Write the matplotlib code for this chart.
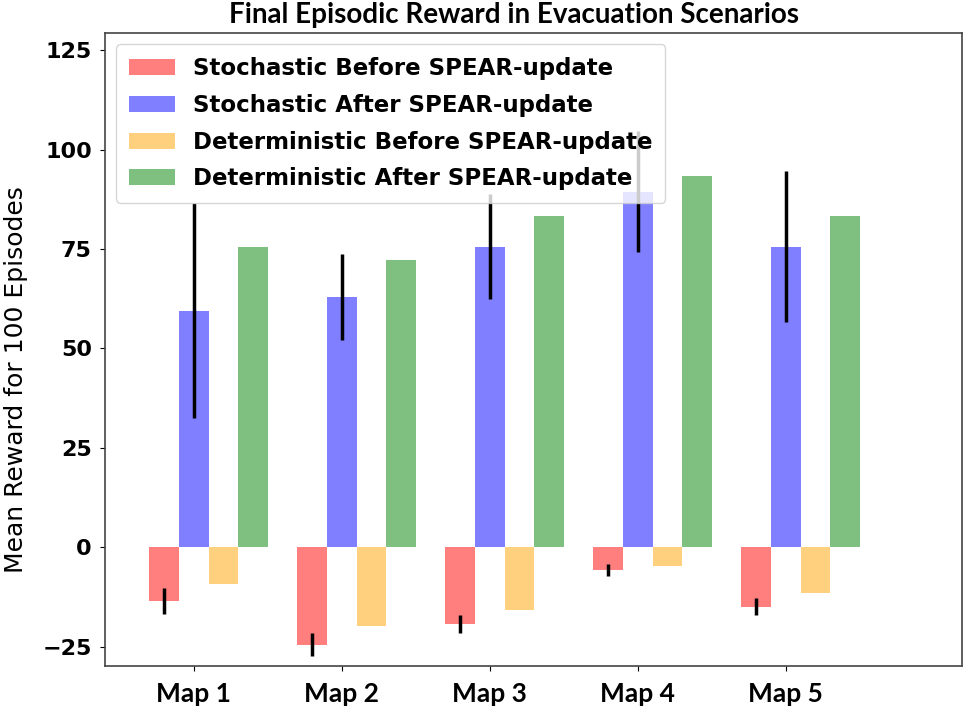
import matplotlib.pyplot as plt
import numpy as np

# data
maps = ['Map 1', 'Map 2', 'Map 3', 'Map 4', 'Map 5']
stoch_before = [-13.5, -24.5, -19.3, -5.8, -15.0]
stoch_before_err = [3.2, 2.8, 2.35, 1.45, 2.15]
stoch_after = [59.5, 63.0, 75.6, 89.4, 75.6]
stoch_after_err = [27.0, 10.8, 13.2, 15.3, 18.9]
det_before = [-9.4, -19.8, -15.8, -4.8, -11.5]
det_after = [75.4, 72.3, 83.3, 93.4, 83.3]

x = np.arange(len(maps))
w = 0.2

fig = plt.figure(figsize=(9.69, 7.11), dpi=100)
ax = fig.add_axes([105 / 969, 45 / 711, 857 / 969, 633 / 711])

err_kw = dict(ecolor='black', elinewidth=2.5, capsize=0)
ax.bar(x - w, stoch_before, w, yerr=stoch_before_err, color='red', alpha=0.5,
       error_kw=err_kw, label='Stochastic Before SPEAR-update')
ax.bar(x, stoch_after, w, yerr=stoch_after_err, color='blue', alpha=0.5,
       error_kw=err_kw, label='Stochastic After SPEAR-update')
ax.bar(x + w, det_before, w, color='orange', alpha=0.5,
       label='Deterministic Before SPEAR-update')
ax.bar(x + 2 * w, det_after, w, color='green', alpha=0.5,
       label='Deterministic After SPEAR-update')

ax.set_xlim(-0.6, 5.19)
ax.set_ylim(-29.9, 129.3)
ax.set_yticks([-25, 0, 25, 50, 75, 100, 125])
ax.set_xticks(x)
ax.set_xticklabels(maps, fontfamily='Lato', fontweight='bold', fontsize=19)
for lab in ax.get_yticklabels():
    lab.set_fontweight('bold')
    lab.set_fontsize(16)
ax.tick_params(axis='x', pad=8)
ax.tick_params(axis='y', pad=6)

for s in ax.spines.values():
    s.set_color('#444444')
    s.set_linewidth(1.2)

ax.set_ylabel('Mean Reward for 100 Episodes', fontsize=18)
ax.yaxis.set_label_coords(-0.09, 0.453)
ax.legend(loc='upper left', prop={'weight': 'bold', 'size': 16.5},
          labelspacing=0.6, borderpad=0.55)

fig.text(514 / 969, 1 - 15 / 711, 'Final Episodic Reward in Evacuation Scenarios',
         ha='center', va='center', fontfamily='Lato', fontweight='bold', fontsize=20)

fig.savefig('out.png', dpi=100)
